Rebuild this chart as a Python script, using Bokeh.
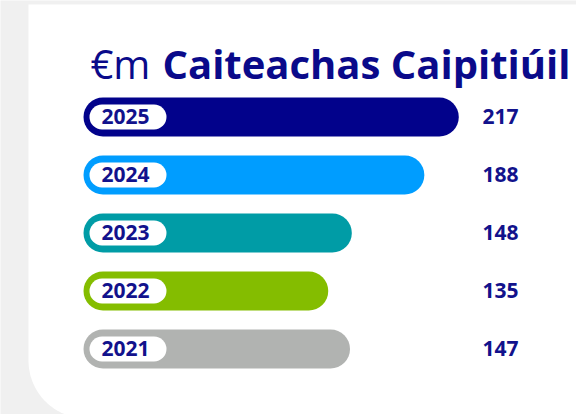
import numpy as np
from bokeh.plotting import figure
from bokeh.models import Range1d, ColumnDataSource, Label
from bokeh.core.properties import value
from bokeh.embed import file_html
from bokeh.resources import INLINE

# ---- data ----
years = ["2025", "2024", "2023", "2022", "2021"]
spend = [217, 188, 148, 135, 147]
colors = ["#02028b", "#009dff", "#009ca6", "#84bd00", "#b1b3b1"]
title_unit = "€m"
title_text = "Caiteachas Caipitiúil"
bar_cap = 207  # bars are capped at the track length of the original card

# ---- layout constants (pixels) ----
W, H = 576, 414
PX_X = 1.813          # pixels per €m
BAR_X0 = 83           # pixel position of value 0
PX_Y = 58             # pixels per row
ROW0 = 116.5          # pixel position of first row centre
BAR_H = 39
PILL_H = 25

x_start = -BAR_X0 / PX_X
x_end = x_start + W / PX_X
y_top = -ROW0 / PX_Y
y_bottom = y_top + H / PX_Y


def px2x(px):
    return x_start + np.asarray(px, dtype=float) / PX_X


def py2y(py):
    return y_top + np.asarray(py, dtype=float) / PX_Y


p = figure(width=W, height=H, output_backend="svg", toolbar_location=None,
           x_range=Range1d(x_start, x_end), y_range=Range1d(y_bottom, y_top),
           min_border=0, tools="")
p.axis.visible = False
p.grid.visible = False
p.outline_line_color = None
p.background_fill_color = "#f0f0f0"
p.border_fill_color = "#f0f0f0"

# white card with rounded bottom-left corner
r = 58
left, top, right, bottom = 28, 4, 620, 418
theta = np.linspace(np.pi / 2, np.pi, 40)
arc_x = left + r + r * np.cos(theta)
arc_y = bottom - r + r * np.sin(theta)
card_px_x = np.concatenate([[left, right, right], arc_x])
card_px_y = np.concatenate([[top, top, bottom], arc_y])
p.patch(px2x(card_px_x), py2y(card_px_y), fill_color="white", line_color=None)

ys = np.arange(len(years))
vals = np.array(spend, dtype=float)
bar_len = np.minimum(vals, bar_cap)
rb = (BAR_H / 2) / PX_X
src = ColumnDataSource(dict(y=ys, x0=np.zeros_like(vals) + rb, x1=bar_len - rb,
                            color=colors, year=years,
                            label=[str(v) for v in spend]))

p.segment(x0="x0", y0="y", x1="x1", y1="y", source=src, line_color="color",
          line_width=BAR_H, line_cap="round")

# white pill with year
rp = (PILL_H / 2) / PX_X
pill_l = 6 / PX_X + rp
pill_r = 83 / PX_X - rp
p.segment(x0=pill_l, y0="y", x1=pill_r, y1="y", source=src, line_color="white",
          line_width=PILL_H, line_cap="round")
p.text(x=42 / PX_X, y="y", text="year", source=src, text_align="center",
       text_baseline="middle", text_font=value("Open Sans"), text_font_style="bold",
       text_font_size="21px", text_color="#12128c", y_offset=-1)

# value labels
p.text(x=float(px2x(482)), y="y", text="label", source=src, text_align="left",
       text_baseline="middle", text_font=value("Open Sans"), text_font_style="bold",
       text_font_size="21px", text_color="#12128c", y_offset=-1)

# title
p.add_layout(Label(x=90, y=H - 63, x_units="screen", y_units="screen", text=title_unit,
                   text_font="Open Sans", text_font_size="40px", text_color="#0a0a8a",
                   text_baseline="alphabetic", text_align="left"))
p.add_layout(Label(x=162, y=H - 63, x_units="screen", y_units="screen", text=title_text,
                   text_font="Open Sans", text_font_style="bold", text_font_size="40px",
                   text_color="#0a0a8a", text_baseline="alphabetic", text_align="left"))

open("out.html", "w").write(file_html(p, INLINE))
